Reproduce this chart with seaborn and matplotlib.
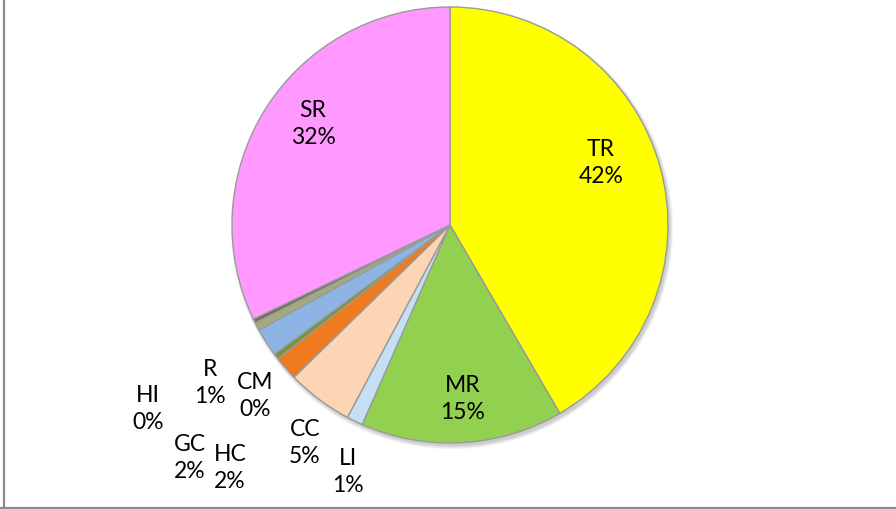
import matplotlib
matplotlib.use("Agg")
import matplotlib.pyplot as plt
import seaborn as sns
from matplotlib.lines import Line2D
from matplotlib.patches import Circle

sns.set_theme(style="white")
plt.rcParams["font.family"] = ["Lato", "DejaVu Sans"]

# Share of each category (percent), clockwise from 12 o'clock
categories = ["TR", "MR", "LI", "CC", "HC", "CM", "GC", "R", "HI", "SR"]
shares = [41.6, 15.0, 1.2, 4.9, 1.8, 0.4, 2.1, 0.6, 0.3, 32.1]
slice_colors = ["#ffff00", "#92d050", "#c5e0f4", "#fcd5b5", "#f07a1e",
                "#77933c", "#8db4e2", "#a4a980", "#6d7152", "#ff99ff"]

# Label anchor points (figure pixels, origin top-left)
label_xy = {
    "TR": (601, 163), "MR": (463, 399), "LI": (348, 472), "CC": (305, 443),
    "HC": (230, 468), "CM": (255, 396), "GC": (190, 458), "R": (210, 383),
    "HI": (148, 409), "SR": (313, 124),
}

W, H = 896, 509
fig = plt.figure(figsize=(W / 100, H / 100), dpi=100)
ax = fig.add_axes([0, 0, 1, 1])

cx, cy, r = 450, H - 225, 218

# soft drop shadow under the pie
for k in range(4):
    ax.add_patch(Circle((cx + 2, cy - 3), r + 3 - k, color="black", alpha=0.05,
                        lw=0, zorder=0))

wedges, _ = ax.pie(shares, colors=slice_colors, startangle=90,
                   counterclock=False, center=(cx, cy), radius=r,
                   wedgeprops=dict(edgecolor="#9a9a9a", linewidth=1.0),
                   frame=True)
ax.set_xlim(0, W)
ax.set_ylim(0, H)
ax.set_aspect("equal")
ax.axis("off")

for cat, val in zip(categories, shares):
    x, y = label_xy[cat]
    ax.text(x, H - y, f"{cat}\n{round(val):d}%", ha="center", va="center",
            fontsize=16.5, linespacing=1.4, color="black")

# chart frame (left and bottom edges)
fig.add_artist(Line2D([4 / W, 4 / W], [0, 1], transform=fig.transFigure,
                      color="#8a8a8a", lw=1.6))
fig.add_artist(Line2D([0, 1], [1.5 / H, 1.5 / H], transform=fig.transFigure,
                      color="#8a8a8a", lw=1.6))

fig.savefig("out.png", dpi=100)
